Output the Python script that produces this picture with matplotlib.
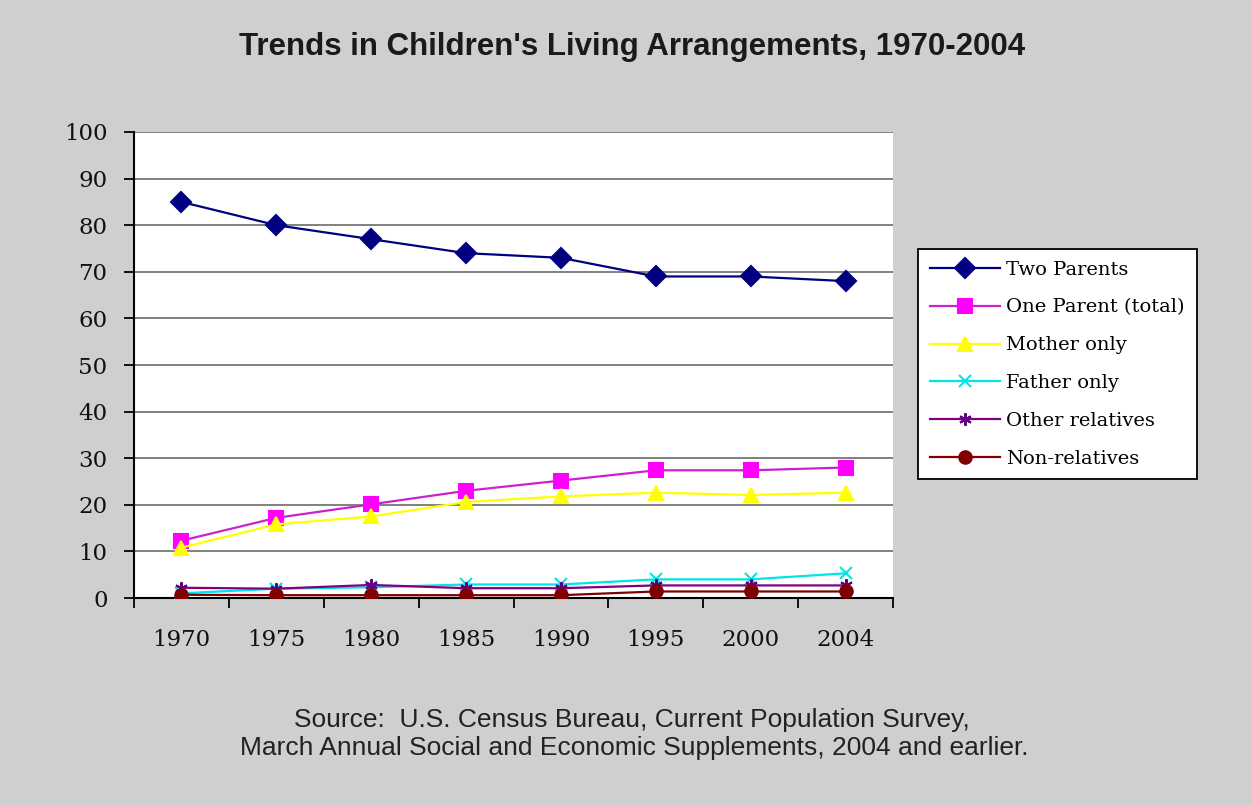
import matplotlib
matplotlib.use("Agg")
import matplotlib.pyplot as plt
import numpy as np

years = ["1970", "1975", "1980", "1985", "1990", "1995", "2000", "2004"]
two_parents = [85, 80, 77, 74, 73, 69, 69, 68]
one_parent = [12.3, 17.2, 20.1, 23.0, 25.2, 27.4, 27.4, 28.0]
mother_only = [10.8, 15.8, 17.5, 20.6, 21.8, 22.6, 22.1, 22.6]
father_only = [1.0, 2.0, 2.3, 2.9, 2.9, 4.0, 4.0, 5.3]
other_relatives = [2.2, 2.0, 2.8, 2.1, 2.1, 2.7, 2.7, 2.7]
non_relatives = [0.7, 0.6, 0.6, 0.6, 0.6, 1.4, 1.4, 1.4]

series = [
    ("Two Parents", two_parents, "#000080", "#000080", "D", 10),
    ("One Parent (total)", one_parent, "#CC22CC", "#FF00FF", "s", 10),
    ("Mother only", mother_only, "#FFFF00", "#FFFF00", "^", 10),
    ("Father only", father_only, "#00E5E5", "#00E5E5", "x", 8),
    ("Other relatives", other_relatives, "#800080", "#600080", (6, 2, 0), 9),
    ("Non-relatives", non_relatives, "#800000", "#800000", "o", 9),
]

bg = "#cfcfcf"
fig = plt.figure(figsize=(12.52, 8.05), dpi=100, facecolor=bg)
ax = fig.add_axes([134 / 1252, 1 - 598 / 805, (893 - 134) / 1252, (598 - 132) / 805])
ax.set_facecolor("white")

x = np.arange(len(years))
for name, vals, lc, mc, mk, ms in series:
    ax.plot(x, vals, color=lc, lw=1.6, marker=mk, markersize=ms,
            markerfacecolor=mc, markeredgecolor=mc, markeredgewidth=1.5,
            label=name, zorder=3)

ax.set_xlim(-0.5, len(years) - 0.5)
ax.set_ylim(0, 100)
ax.set_yticks(np.arange(0, 101, 10))
ax.yaxis.grid(True, color="#808080", lw=1.4)
ax.set_axisbelow(True)

tick_font = "DejaVu Serif"
ax.set_xticks(x)
ax.set_xticklabels(years, family=tick_font, fontsize=16.5, color="#111111")
ax.set_xticks(np.arange(-0.5, len(years)), minor=True)
ax.tick_params(axis="x", which="major", length=0, pad=22)
ax.tick_params(axis="x", which="minor", length=7, width=1.3, direction="out", color="black")
ax.tick_params(axis="y", length=7, width=1.3, direction="out", pad=12, color="black")
for lab in ax.get_yticklabels():
    lab.set_family(tick_font)
    lab.set_fontsize(16.5)
    lab.set_color("#111111")

for s in ["top", "right"]:
    ax.spines[s].set_visible(False)
for s in ["left", "bottom"]:
    ax.spines[s].set_linewidth(1.5)
    ax.spines[s].set_color("black")

leg = fig.legend(loc="upper left", bbox_to_anchor=(918 / 1252, 1 - 249 / 805),
                 prop={"family": "DejaVu Serif", "size": 14},
                 frameon=True, fancybox=False, edgecolor="black", framealpha=1,
                 handlelength=3.6, handletextpad=0.35, labelspacing=1.02,
                 borderpad=0.6, borderaxespad=0)
leg.get_frame().set_linewidth(1.3)
leg.get_frame().set_facecolor("white")

fig.text(632 / 1252, 1 - 47 / 805, "Trends in Children's Living Arrangements, 1970-2004",
         ha="center", va="center", family="Liberation Sans", weight="bold", fontsize=22.5,
         color="#1a1a1a")
fig.text(632 / 1252, 1 - 720 / 805, "Source:  U.S. Census Bureau, Current Population Survey,",
         ha="center", va="center", family="Liberation Sans", fontsize=19, color="#222222")
fig.text(634 / 1252, 1 - 748 / 805, "March Annual Social and Economic Supplements, 2004 and earlier.",
         ha="center", va="center", family="Liberation Sans", fontsize=19, color="#222222")

fig.savefig("out.png", dpi=100, facecolor=bg)
